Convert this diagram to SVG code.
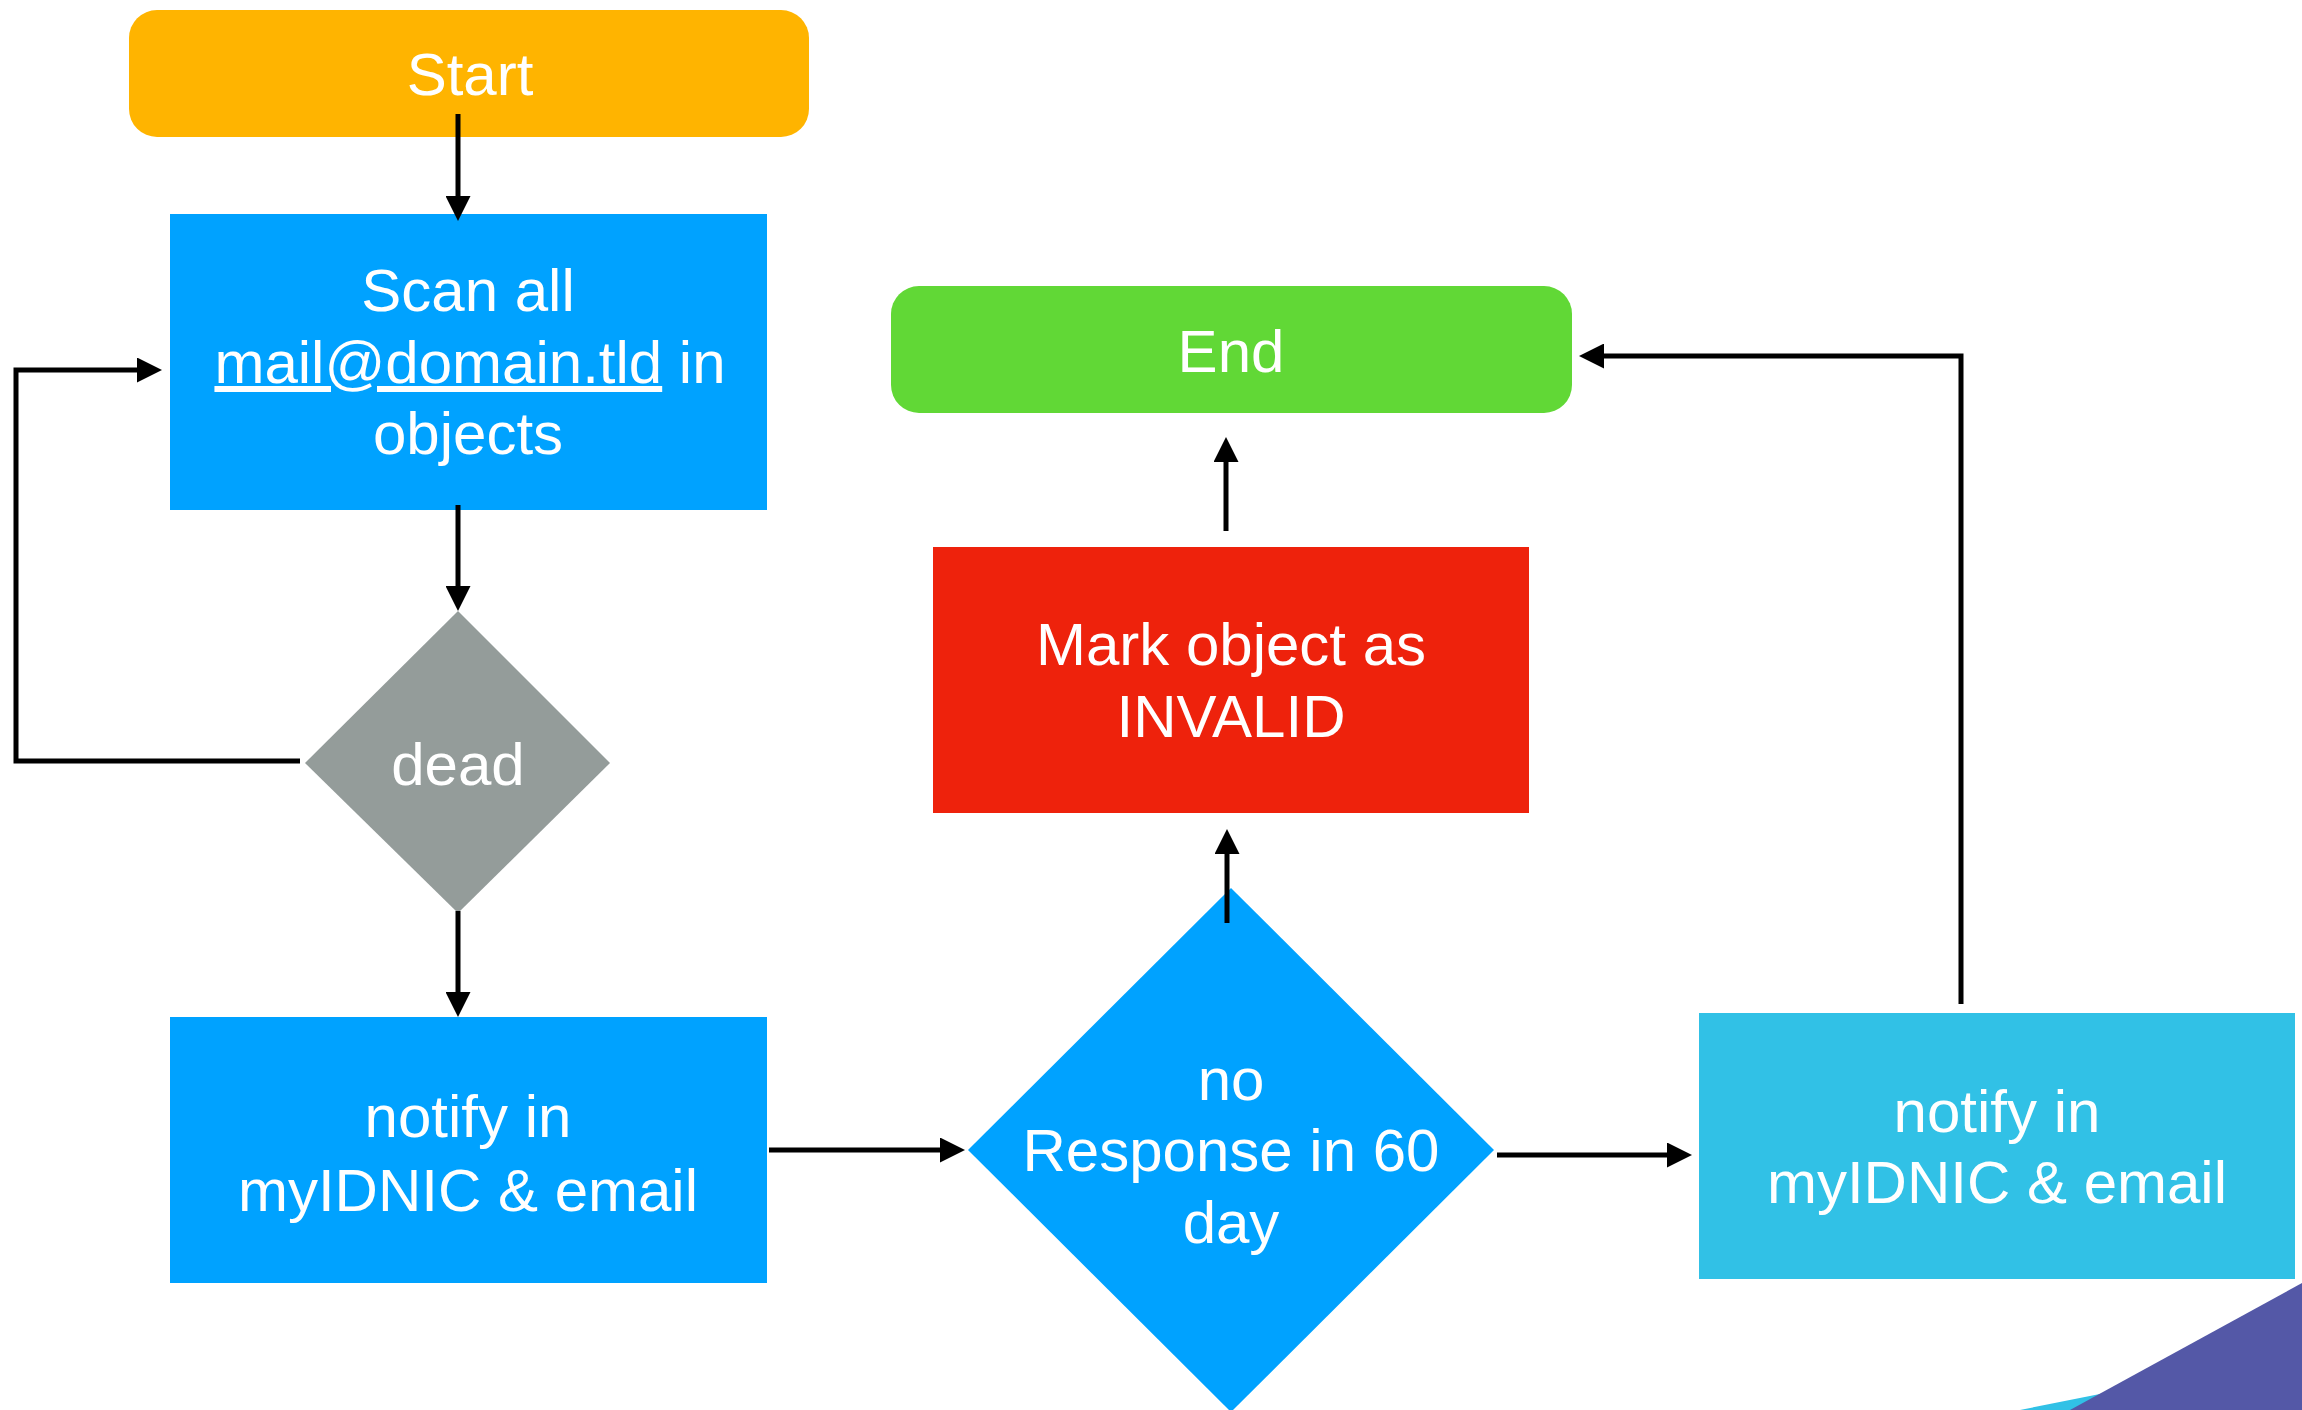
<svg xmlns="http://www.w3.org/2000/svg" width="2302" height="1410" viewBox="0 0 2302 1410">
  <defs>
    <marker id="arrow" viewBox="0 0 25 25" markerWidth="25" markerHeight="25" refX="15" refY="12.5" orient="auto" markerUnits="userSpaceOnUse">
      <path d="M0,0 L25,12.5 L0,25 z" fill="#000"/>
    </marker>
    <style>
      .lbl { font-family: "Liberation Sans", Arial, Helvetica, sans-serif; font-size: 60px; fill: #ffffff; text-anchor: middle; }
      .conn { fill: none; stroke: #000; stroke-width: 5; stroke-linejoin: miter; }
      .arr { marker-end: url(#arrow); }
    </style>
  </defs>
  <rect width="2302" height="1410" fill="#ffffff"/>

  <g id="decoration">
    <polygon points="2020,1410 2110,1392 2110,1410" fill="#31C1E6"/>
    <polygon points="2070,1410 2302,1283 2302,1410" fill="#5458A7"/>
  </g>

  <g id="node-start">
    <rect x="129" y="10" width="680" height="127" rx="28" ry="28" fill="#FFB400"/>
    <text class="lbl" x="470" y="95">Start</text>
  </g>

  <g id="node-scan">
    <rect x="170" y="214" width="597" height="296" fill="#00A2FF"/>
    <text class="lbl" x="468" y="311">Scan all</text>
    <text class="lbl" x="470" y="383"><tspan text-decoration="underline">mail@domain.tld</tspan> in</text>
    <text class="lbl" x="468" y="454">objects</text>
  </g>

  <g id="node-dead">
    <polygon points="458,611 610,763 458,913 305,763" fill="#949C9A"/>
    <text class="lbl" x="458" y="785">dead</text>
  </g>

  <g id="node-notify1">
    <rect x="170" y="1017" width="597" height="266" fill="#00A2FF"/>
    <text class="lbl" x="468" y="1137">notify in</text>
    <text class="lbl" x="468" y="1211">myIDNIC &amp; email</text>
  </g>

  <g id="node-noresponse">
    <polygon points="1231,888 1494,1150 1231,1412 968,1150" fill="#00A2FF"/>
    <text class="lbl" x="1231" y="1100">no</text>
    <text class="lbl" x="1231" y="1171">Response in 60</text>
    <text class="lbl" x="1231" y="1243">day</text>
  </g>

  <g id="node-invalid">
    <rect x="933" y="547" width="596" height="266" fill="#EE220C"/>
    <text class="lbl" x="1231" y="665">Mark object as</text>
    <text class="lbl" x="1231" y="737">INVALID</text>
  </g>

  <g id="node-end">
    <rect x="891" y="286" width="681" height="127" rx="28" ry="28" fill="#61D836"/>
    <text class="lbl" x="1231" y="372">End</text>
  </g>

  <g id="node-notify2">
    <rect x="1699" y="1013" width="596" height="266" fill="#31C1E6"/>
    <text class="lbl" x="1997" y="1132">notify in</text>
    <text class="lbl" x="1997" y="1203">myIDNIC &amp; email</text>
  </g>

  <g id="connectors">
    <path class="conn arr" d="M458,114 V211"/>
    <path class="conn arr" d="M458,505 V601"/>
    <path class="conn arr" d="M458,911 V1007"/>
    <path class="conn arr" d="M300,761 H16 V370 H152"/>
    <path class="conn arr" d="M769,1150 H955"/>
    <path class="conn arr" d="M1227,923 V839"/>
    <path class="conn arr" d="M1226,531 V447"/>
    <path class="conn arr" d="M1497,1155 H1682"/>
    <path class="conn arr" d="M1961,1004 V356 H1589"/>
  </g>
</svg>
